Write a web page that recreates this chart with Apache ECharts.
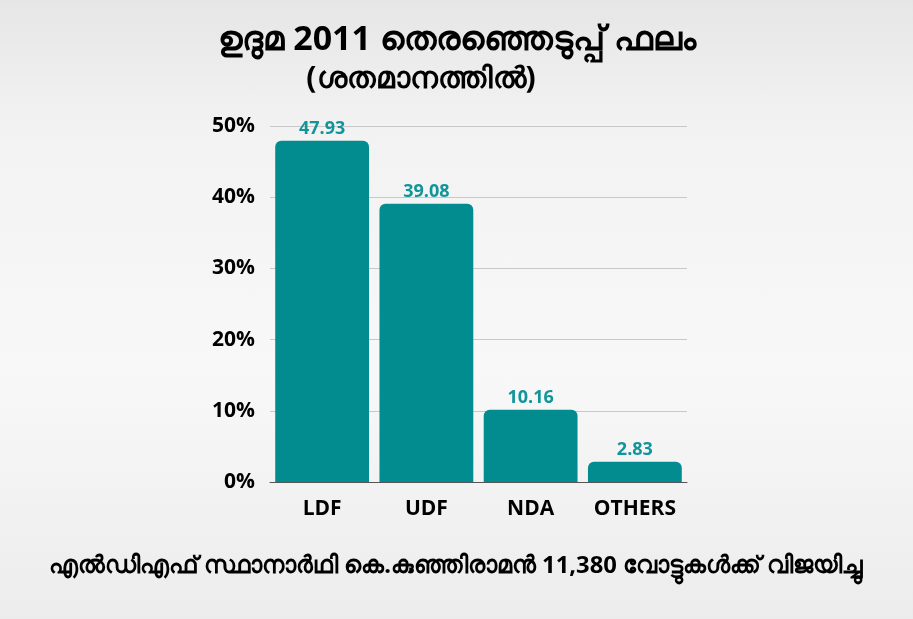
<!DOCTYPE html>
<html><head><meta charset="utf-8">
<script src="https://cdn.jsdelivr.net/npm/echarts@6/dist/echarts.min.js"></script>
<style>html,body{margin:0;padding:0;}#c{width:913px;height:619px;background:linear-gradient(180deg,#e6e6e6 0%,#f2f2f2 20%,#f8f8f8 60%,#ececec 100%);}</style>
</head><body><div id="c"></div>
<script>
const categories = ['LDF','UDF','NDA','OTHERS'];
const values = [47.93, 39.08, 10.16, 2.83];
const titleLine1 = 'ഉദുമ 2011 തെരഞ്ഞെടുപ്പ് ഫലം';
const titleLine2 = '(ശതമാനത്തിൽ)';
const footer = 'എൽഡിഎഫ് സ്ഥാനാർഥി കെ.കുഞ്ഞിരാമൻ 11,380 വോട്ടുകൾക്ക് വിജയിച്ചു';

const chart = echarts.init(document.getElementById('c'), null, {renderer:'canvas'});
chart.setOption({
  backgroundColor: 'transparent',
  title: [
    {text: titleLine1, left: 452, top: 18, textAlign: 'center', textStyle:{fontSize:34, fontWeight:'bold', color:'#000', fontFamily:'Noto Sans, sans-serif'}},
    {text: titleLine2, left: 416, top: 59, textAlign: 'center', textStyle:{fontSize:30, fontWeight:'bold', color:'#000', fontFamily:'Noto Sans, sans-serif'}},
    {text: footer, left: 451, top: 549, textAlign: 'center', textStyle:{fontSize:23.8, fontWeight:'bold', color:'#000', fontFamily:'Noto Sans, sans-serif'}}
  ],
  grid: {left: 270, right: 226, top: 126, bottom: 137},
  xAxis: {
    type: 'category', data: categories,
    axisLine: {show: true, lineStyle: {color: '#555', width: 1}},
    axisTick: {show: false},
    axisLabel: {interval: 0, color:'#000', fontSize:21, fontWeight:'bold', fontFamily:'Open Sans', margin: 17}
  },
  yAxis: {
    type: 'value', min: 0, max: 50, interval: 10,
    axisLine: {show:false}, axisTick:{show:false},
    splitLine: {lineStyle:{color:'#c8c8c8', width:1}},
    axisLabel: {formatter: '{value}%', color:'#000', fontSize:21, fontWeight:'bold', fontFamily:'Open Sans', margin: 15}
  },
  series: [{
    type: 'bar', data: values, barCategoryGap: '10%',
    itemStyle: {color:'#028c90', borderRadius:[6,6,0,0]},
    label: {show:true, position:'top', distance:3, color:'#12959a', fontSize:18, fontWeight:'bold', fontFamily:'Open Sans',
      formatter: p => p.value.toFixed(2)}
  }]
});
</script></body></html>
